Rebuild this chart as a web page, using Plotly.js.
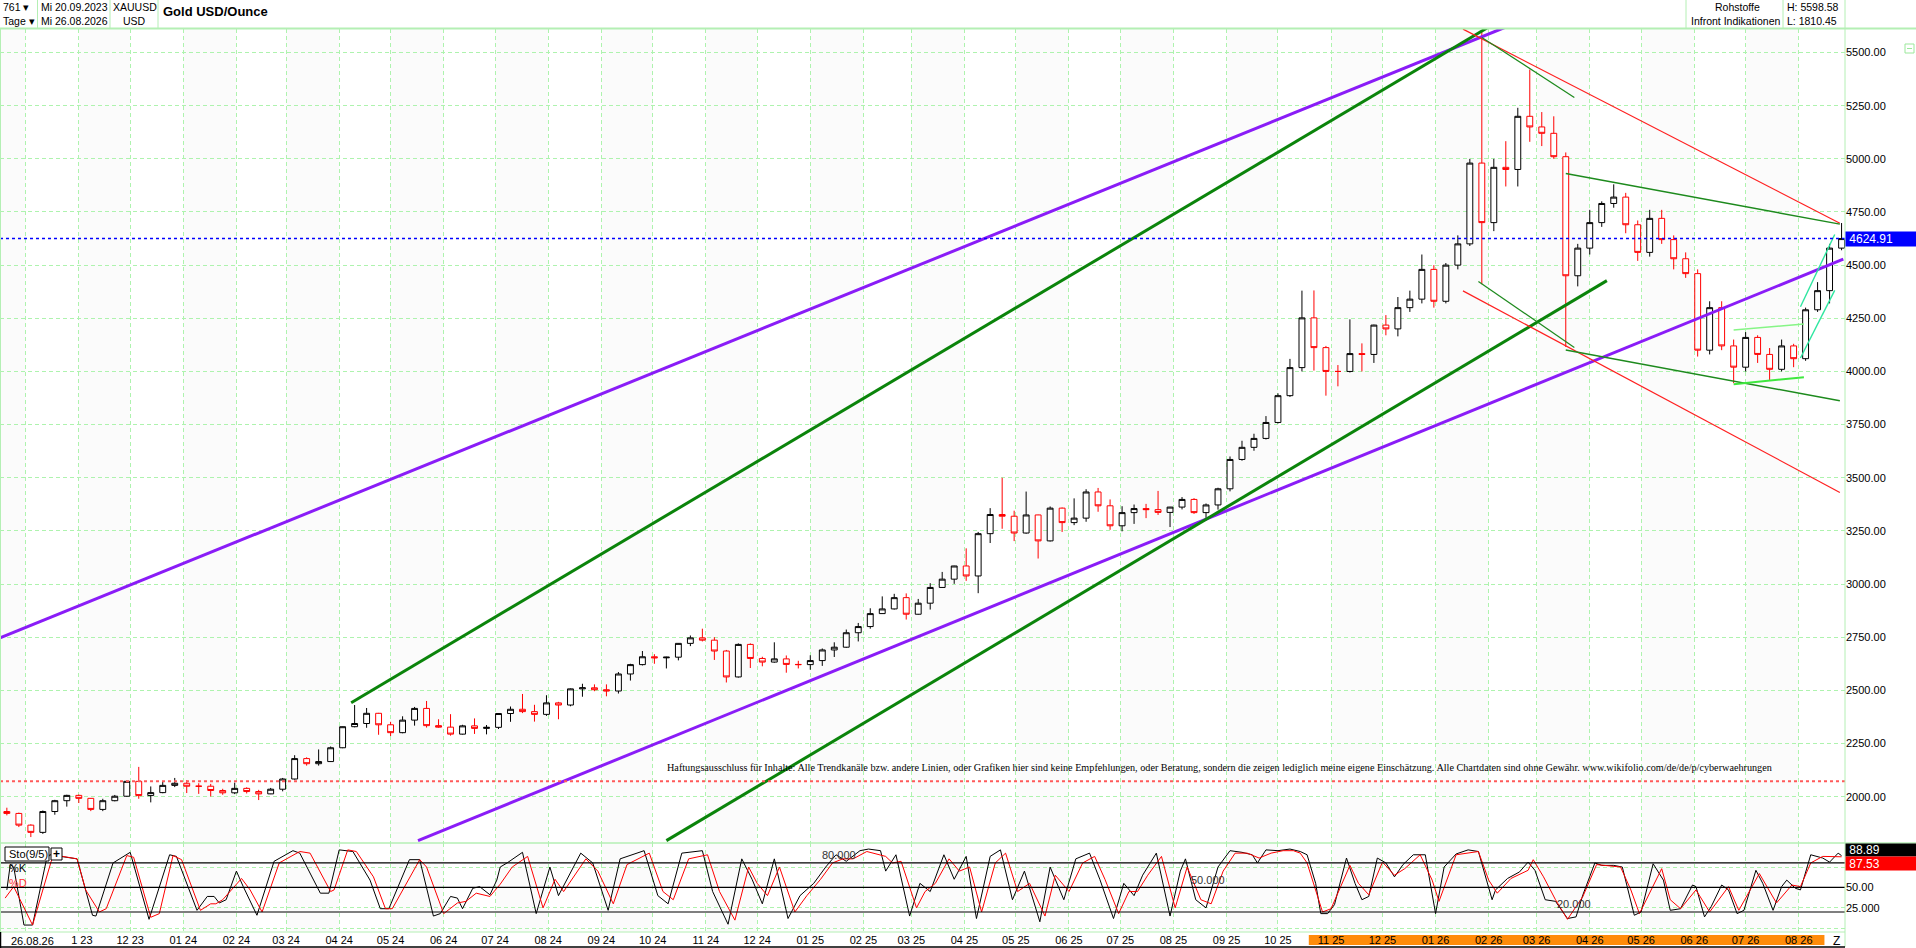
<!DOCTYPE html>
<html><head><meta charset="utf-8">
<script src="https://cdn.plot.ly/plotly-3.0.1.min.js"></script>
<style>html,body{margin:0;padding:0;background:#fff;overflow:hidden}#chart{width:1916px;height:948px}</style>
</head><body><div id="chart"></div>
<script>
// ---------------- DATA ----------------
const weekDates = ['2023-09-20','2023-09-27','2023-10-04','2023-10-11','2023-10-18','2023-10-25','2023-11-01','2023-11-08','2023-11-15','2023-11-22','2023-11-29','2023-12-06','2023-12-13','2023-12-20','2023-12-27',
'2024-01-03','2024-01-10','2024-01-17','2024-01-24','2024-01-31','2024-02-07','2024-02-14','2024-02-21','2024-02-28','2024-03-06','2024-03-13','2024-03-20','2024-03-27','2024-04-03','2024-04-10','2024-04-17','2024-04-24','2024-05-01','2024-05-08','2024-05-15','2024-05-22','2024-05-29','2024-06-05','2024-06-12','2024-06-19','2024-06-26','2024-07-03','2024-07-10','2024-07-17','2024-07-24','2024-07-31','2024-08-07','2024-08-14','2024-08-21','2024-08-28','2024-09-04','2024-09-11','2024-09-18','2024-09-25','2024-10-02','2024-10-09','2024-10-16','2024-10-23','2024-10-30','2024-11-06','2024-11-13','2024-11-20','2024-11-27','2024-12-04','2024-12-11','2024-12-18','2024-12-25',
'2025-01-01','2025-01-08','2025-01-15','2025-01-22','2025-01-29','2025-02-05','2025-02-12','2025-02-19','2025-02-26','2025-03-05','2025-03-12','2025-03-19','2025-03-26','2025-04-02','2025-04-09','2025-04-16','2025-04-23','2025-04-30','2025-05-07','2025-05-14','2025-05-21','2025-05-28','2025-06-04','2025-06-11','2025-06-18','2025-06-25','2025-07-02','2025-07-09','2025-07-16','2025-07-23','2025-07-30','2025-08-06','2025-08-13','2025-08-20','2025-08-27','2025-09-03','2025-09-10','2025-09-17','2025-09-24','2025-10-01','2025-10-08','2025-10-15','2025-10-22','2025-10-29','2025-11-05','2025-11-12','2025-11-19','2025-11-26','2025-12-03','2025-12-10','2025-12-17','2025-12-24','2025-12-31',
'2026-01-07','2026-01-14','2026-01-21','2026-01-28','2026-02-04','2026-02-11','2026-02-18','2026-02-25','2026-03-04','2026-03-11','2026-03-18','2026-03-25','2026-04-01','2026-04-08','2026-04-15','2026-04-22','2026-04-29','2026-05-06','2026-05-13','2026-05-20','2026-05-27','2026-06-03','2026-06-10','2026-06-17','2026-06-24','2026-07-01','2026-07-08','2026-07-15','2026-07-22','2026-07-29','2026-08-05','2026-08-12','2026-08-19','2026-08-26'];

const opens = [1930,1921,1866,1832,1930,1981,2006,1992,1940,1981,2002,2072,2005,2019,2053,
2063,2049,2049,2029,2018,2039,2024,2013,2035,2083,2179,2155,2165,2230,2329,2344,2392,2338,2301,2360,2415,2334,2327,2294,2333,2321,2326,2391,2411,2400,2387,2441,2431,2507,2512,2503,2497,2577,2621,2658,2653,2656,2721,2747,2736,2685,2563,2716,2650,2633,2648,2622,
2621,2640,2690,2703,2771,2800,2861,2883,2936,2858,2910,2984,3023,3085,3038,3237,3327,3319,3240,3325,3203,3357,3289,3310,3433,3368,3274,3336,3355,3350,3337,3362,3398,3336,3372,3448,3586,3643,3685,3760,3886,4018,4252,4112,4000,4000,4084,4080,4218,4200,4300,4340,4480,
4330,4500,4600,4980,4700,4960,4950,5200,5150,5120,5010,4450,4580,4700,4790,4820,4690,4560,4720,4620,4530,4460,4100,4300,4120,4020,4160,4080,4010,4120,4060,4290,4380,4580];

const highs = [1948,1925,1870,1935,1985,2009,2010,1993,1990,2008,2075,2140,2048,2070,2088,
2078,2063,2060,2037,2066,2044,2032,2041,2088,2195,2185,2222,2236,2330,2431,2417,2394,2352,2378,2422,2450,2364,2388,2338,2368,2337,2392,2424,2483,2432,2477,2446,2509,2531,2528,2528,2586,2625,2685,2670,2658,2722,2758,2790,2750,2690,2721,2721,2658,2726,2664,2639,
2665,2697,2726,2786,2817,2886,2942,2954,2956,2930,3004,3057,3086,3168,3245,3357,3500,3345,3435,3326,3365,3360,3403,3446,3452,3398,3366,3374,3377,3438,3363,3409,3404,3379,3453,3600,3674,3707,3790,3897,4059,4380,4381,4120,4030,4245,4132,4220,4265,4350,4380,4550,4500,
4510,4640,5000,5598,5000,5083,5240,5420,5220,5200,5030,4600,4760,4800,4880,4840,4710,4760,4760,4640,4560,4480,4330,4330,4150,4185,4170,4110,4150,4130,4300,4420,4600,4698];

const lows = [1912,1857,1810,1825,1915,1953,1970,1932,1932,1978,2000,1990,1973,2016,2045,
2017,2013,2001,2009,2012,2015,1984,2012,2025,2080,2146,2146,2163,2228,2326,2324,2291,2285,2298,2334,2325,2324,2287,2292,2295,2293,2318,2352,2393,2353,2380,2364,2425,2470,2496,2472,2485,2546,2617,2625,2603,2641,2708,2730,2643,2537,2560,2605,2613,2630,2583,2603,
2597,2615,2657,2700,2730,2790,2860,2880,2833,2856,2880,2982,3001,3015,2957,3193,3260,3202,3237,3120,3200,3245,3277,3293,3340,3255,3248,3283,3310,3325,3268,3351,3330,3311,3350,3436,3580,3627,3680,3755,3880,4000,4004,3886,3930,3995,4000,4040,4170,4165,4280,4320,4300,
4320,4480,4590,4410,4660,4870,4870,5080,5060,5000,4115,4400,4550,4680,4770,4650,4520,4540,4600,4480,4440,4070,4080,4100,3945,4000,4040,3960,4000,4020,4050,4280,4320,4570];

const closes = [1921,1866,1832,1930,1981,2006,1992,1940,1981,2002,2072,2005,2019,2053,2063,
2049,2049,2029,2018,2039,2024,2013,2035,2083,2179,2155,2165,2230,2329,2344,2392,2338,2301,2360,2415,2334,2327,2294,2333,2321,2326,2391,2411,2400,2387,2441,2431,2507,2512,2503,2497,2577,2621,2658,2653,2656,2721,2747,2736,2685,2563,2716,2650,2633,2648,2622,2621,
2640,2690,2703,2771,2800,2861,2883,2936,2858,2910,2984,3023,3085,3038,3237,3327,3319,3240,3325,3203,3357,3289,3310,3433,3368,3274,3336,3355,3350,3337,3362,3398,3336,3372,3448,3586,3643,3685,3760,3886,4018,4252,4112,4000,4000,4084,4080,4218,4200,4300,4340,4480,4330,
4500,4600,4980,4700,4960,4950,5200,5150,5120,5010,4450,4580,4700,4790,4820,4690,4560,4720,4620,4530,4460,4100,4300,4120,4020,4160,4080,4010,4120,4060,4290,4380,4580,4624.91];

// Stochastic (9/5)
const stoKDates = ['2023-09-20','2023-09-22','2023-09-24','2023-09-30','2023-10-05','2023-10-13','2023-10-15','2023-10-31','2023-11-09','2023-11-11','2023-11-21','2023-12-01','2023-12-12','2023-12-24','2023-12-28',
'2024-01-09','2024-01-15','2024-01-19','2024-01-22','2024-01-26','2024-02-01','2024-02-05','2024-02-13','2024-02-23','2024-03-05','2024-03-09','2024-03-21','2024-03-26','2024-04-01','2024-04-09','2024-04-19','2024-04-25','2024-04-30','2024-05-12','2024-05-18','2024-05-26','2024-05-30','2024-06-05','2024-06-09','2024-06-12','2024-06-18','2024-06-22','2024-06-28','2024-07-02','2024-07-04',
'2024-07-08','2024-07-17','2024-07-25','2024-08-02','2024-08-07','2024-08-20','2024-08-27','2024-09-05','2024-09-12','2024-09-26','2024-10-04','2024-10-10','2024-10-18','2024-10-30','2024-11-05','2024-11-14','2024-11-22','2024-11-28','2024-12-04','2024-12-11','2024-12-19','2024-12-26',
'2025-01-03','2025-01-10','2025-01-16','2025-01-22','2025-01-30','2025-02-04','2025-02-11','2025-02-14','2025-02-20','2025-02-28','2025-03-06','2025-03-12','2025-03-20','2025-03-26','2025-04-02','2025-04-08','2025-04-16','2025-04-22','2025-04-29','2025-05-06','2025-05-15','2025-05-21','2025-05-29','2025-06-05','2025-06-13','2025-06-19','2025-06-27','2025-07-03','2025-07-09','2025-07-14','2025-07-22','2025-07-30','2025-08-05','2025-08-08','2025-08-14','2025-08-20','2025-08-27','2025-09-03','2025-09-10','2025-09-16','2025-09-19','2025-09-24','2025-10-01','2025-10-08',
'2025-10-14','2025-10-18','2025-10-23','2025-10-26','2025-10-30','2025-11-03','2025-11-10','2025-11-15','2025-11-19','2025-11-23','2025-11-28','2025-12-03','2025-12-08','2025-12-13','2025-12-19','2025-12-26',
'2026-01-01','2026-01-06','2026-01-13','2026-01-20','2026-01-26','2026-02-03','2026-02-05','2026-02-12','2026-02-19','2026-02-24','2026-02-28','2026-03-06','2026-03-12','2026-03-19','2026-03-24','2026-03-28','2026-04-04','2026-04-08','2026-04-15','2026-04-20','2026-04-27','2026-05-01','2026-05-08','2026-05-14','2026-05-18','2026-05-24','2026-05-31','2026-06-02','2026-06-07','2026-06-11','2026-06-17','2026-06-21','2026-06-26','2026-06-30','2026-07-07','2026-07-11','2026-07-17','2026-07-22','2026-07-25','2026-07-30','2026-08-02','2026-08-08','2026-08-15','2026-08-19','2026-08-24','2026-08-26'];
const stoK = [47,78,75,4,4,83,90,85,16,15,80,93,11,90,88,
22,39,39,31,35,70,51,16,82,95,92,43,43,96,94,59,24,24,84,84,15,18,39,37,24,49,51,41,59,75,
80,93,18,75,40,92,80,22,85,95,40,30,92,95,45,5,85,60,30,85,12,40,
55,75,90,82,95,97,95,70,90,15,55,45,90,60,88,12,88,96,35,70,8,75,35,85,92,60,12,55,40,65,92,15,70,85,35,25,75,95,93,90,80,96,95,97,
94,90,55,18,18,29,86,55,35,39,86,80,63,78,90,90,
18,75,91,96,94,35,47,61,69,81,71,35,33,12,14,41,80,77,77,75,16,20,79,59,22,24,53,51,14,27,53,47,18,22,71,55,22,51,59,49,47,90,86,81,92,88.89];

const stoDDates = ['2023-09-19','2023-09-24','2023-10-05','2023-10-17','2023-10-31','2023-11-05','2023-11-13','2023-11-17','2023-11-29','2023-12-03','2023-12-13','2023-12-18','2023-12-26','2023-12-31',
'2024-01-11','2024-01-17','2024-01-20','2024-01-24','2024-02-04','2024-02-09','2024-02-16','2024-02-26','2024-03-09','2024-03-15','2024-03-27','2024-03-29','2024-04-06','2024-04-11','2024-04-21','2024-04-28','2024-05-02','2024-05-18','2024-05-22','2024-06-01','2024-06-09','2024-06-14','2024-06-20','2024-06-28','2024-07-04',
'2024-07-11','2024-07-20','2024-07-29','2024-08-05','2024-08-10','2024-08-23','2024-08-30','2024-09-08','2024-09-16','2024-09-29','2024-10-07','2024-10-13','2024-10-22','2024-11-02','2024-11-09','2024-11-18','2024-11-26','2024-12-01','2024-12-07','2024-12-14','2024-12-23','2024-12-30',
'2025-01-07','2025-01-14','2025-01-20','2025-01-26','2025-02-03','2025-02-14','2025-02-18','2025-02-23','2025-03-04','2025-03-09','2025-03-15','2025-03-23','2025-03-29','2025-04-04','2025-04-11','2025-04-19','2025-04-25','2025-05-02','2025-05-09','2025-05-18','2025-05-24','2025-06-01','2025-06-09','2025-06-16','2025-06-22','2025-06-30','2025-07-06','2025-07-11','2025-07-17','2025-07-25','2025-08-02','2025-08-09','2025-08-17','2025-08-23','2025-08-30','2025-09-06','2025-09-13','2025-09-20','2025-09-27','2025-10-04','2025-10-10',
'2025-10-14','2025-10-18','2025-10-27','2025-11-01','2025-11-12','2025-11-17','2025-11-23','2025-12-01','2025-12-08','2025-12-14','2025-12-23','2025-12-30',
'2026-01-03','2026-01-13','2026-01-26','2026-02-01','2026-02-06','2026-02-14','2026-02-24','2026-02-27','2026-03-05','2026-03-12','2026-03-19','2026-03-28','2026-04-05','2026-04-19','2026-04-25','2026-04-30','2026-05-13','2026-05-18','2026-05-24','2026-06-02','2026-06-10','2026-06-21','2026-06-27','2026-07-09','2026-07-19','2026-07-28','2026-08-02','2026-08-08','2026-08-15','2026-08-24','2026-08-26'];
const stoD = [37,51,4,90,85,47,20,24,89,87,13.5,18,89,84,
22,30,30,35,61,47,20,80,94,92,45,47,96,94,63,24,24,84,75,18,31,33,43,39,54,
75,88,25,60,45,85,70,30,78,92,45,35,85,90,45,10,75,55,40,75,20,40,
60,80,85,85,94,88,80,82,25,45,55,85,70,75,20,80,92,45,55,15,65,45,80,88,60,18,45,45,65,88,25,75,35,30,70,92,92,86,92,95,95,
92,80,20,24,77,55,41,81,65,73,90,59,
33,90,94,59,43,61,71,84,63,35,11,39,78,75,47,18,73,35,24,47,20,51,22,67,31,53,51,80,88,87.5,87.53];

// Month ticks (the first label is covered by the date stamp, the second is partly hidden)
const monthStarts = ['2023-10-01','2023-11-01','2023-12-01','2024-01-01','2024-02-01','2024-03-01','2024-04-01','2024-05-01','2024-06-01','2024-07-01','2024-08-01','2024-09-01','2024-10-01','2024-11-01','2024-12-01','2025-01-01','2025-02-01','2025-03-01','2025-04-01','2025-05-01','2025-06-01','2025-07-01','2025-08-01','2025-09-01','2025-10-01','2025-11-01','2025-12-01','2026-01-01','2026-02-01','2026-03-01','2026-04-01','2026-05-01','2026-06-01','2026-07-01','2026-08-01'];
const monthLabels = ['','&nbsp;&nbsp;1 23','12 23','01 24','02 24','03 24','04 24','05 24','06 24','07 24','08 24','09 24','10 24','11 24','12 24','01 25','02 25','03 25','04 25','05 25','06 25','07 25','08 25','09 25','10 25','11 25','12 25','01 26','02 26','03 26','04 26','05 26','06 26','07 26','08 26'];

// Drawn trend lines (start / end)
const lineNames  = ['purpleUpper','purpleLower','greenUpper','greenLower','redUpper','redLower','greenPeak','greenChanTop','greenDesc','greenChanBot','limeTop','limeBot','cyanTop','cyanBot'];
const lineStart  = ['2023-09-16','2024-05-17','2024-04-08','2024-10-09','2026-01-17','2026-01-17','2026-01-28','2026-03-18','2026-01-26','2026-03-18','2026-06-24','2026-06-24','2026-08-02','2026-08-02'];
const lineEnd    = ['2026-02-11','2026-08-27','2026-02-01','2026-04-11','2026-08-25','2026-08-25','2026-03-23','2026-08-25','2026-03-23','2026-08-25','2026-08-04','2026-08-04','2026-08-22','2026-08-22'];
const lineStartY = [2747,1793,2442,1793,5610,4379,5571,4931,4423,4101,4195,3940,4304,4063];
const lineEndY   = [5620,4528,5620,4427,4697,3431,5289,4693,4113,3862,4223,3973,4644,4381];

const lastPrice = 4624.91, refLevel = 2072;
const stoLevels = [20, 50, 80];
const lastK = 88.89, lastD = 87.53;
const yTickVals = [2000,2250,2500,2750,3000,3250,3500,3750,4000,4250,4500,4750,5000,5250,5500];

// ---------------- STYLE / LAYOUT ----------------
const W=1916, H=948, PR=1845;
const F = 'Liberation Sans, Arial, sans-serif';
const GRID = '#aef3ae', BORDER = '#b4efb4';
const lineStyle = {
  purpleUpper:{c:'#8a1cf7',w:3}, purpleLower:{c:'#8a1cf7',w:3},
  greenUpper:{c:'#0b840b',w:3}, greenLower:{c:'#0b840b',w:3},
  redUpper:{c:'#ff2020',w:1.2}, redLower:{c:'#ff2020',w:1.2},
  greenPeak:{c:'#1d8a1d',w:1.2}, greenChanTop:{c:'#1d8a1d',w:1.4}, greenDesc:{c:'#1d8a1d',w:1.2}, greenChanBot:{c:'#1d8a1d',w:1.4},
  limeTop:{c:'#86f586',w:1.5}, limeBot:{c:'#3ee83e',w:2},
  cyanTop:{c:'#2ee6a0',w:1.4}, cyanBot:{c:'#2ee6a0',w:1.4}
};
const px = X => X/PR, py = Y => 1 - Y/H;

const traces = [];
traces.push({type:'candlestick', x:weekDates, open:opens, high:highs, low:lows, close:closes,
  xaxis:'x', yaxis:'y', whiskerwidth:0, hoverinfo:'skip',
  increasing:{line:{color:'#000000', width:1}, fillcolor:'#ffffff'},
  decreasing:{line:{color:'#ff0000', width:1}, fillcolor:'#ffffff'}, showlegend:false});
lineNames.forEach((n,i)=>{
  traces.push({type:'scatter', mode:'lines', x:[lineStart[i], lineEnd[i]], y:[lineStartY[i], lineEndY[i]],
    xaxis:'x', yaxis:'y', line:{color:lineStyle[n].c, width:lineStyle[n].w}, hoverinfo:'skip', showlegend:false});
});
traces.push({type:'scatter', mode:'lines', x:stoKDates, y:stoK, xaxis:'x', yaxis:'y2', line:{color:'#000000', width:1}, hoverinfo:'skip', showlegend:false});
traces.push({type:'scatter', mode:'lines', x:stoDDates, y:stoD, xaxis:'x', yaxis:'y2', line:{color:'#ff0000', width:1}, hoverinfo:'skip', showlegend:false});

const X0='2023-09-16', X1='2026-08-28';
const shapes = [];
const edges = [X0, ...monthStarts, X1];
for (let i=0;i<edges.length-1;i++){
  const m = i===0 ? 9 : parseInt(monthStarts[i-1].slice(5,7),10);
  if (m % 2 === 1) shapes.push({type:'rect', xref:'x', yref:'paper', x0:edges[i], x1:edges[i+1], y0:py(932), y1:py(28.5), fillcolor:'#fbfbfb', line:{width:0}, layer:'below'});
}
shapes.push({type:'line', xref:'paper', yref:'y', x0:0, x1:1, y0:lastPrice, y1:lastPrice, line:{color:'#0000ff', width:1.5, dash:'dot'}});
shapes.push({type:'line', xref:'paper', yref:'y', x0:0, x1:1, y0:refLevel, y1:refLevel, line:{color:'#ff5a5a', width:2, dash:'dot'}});
stoLevels.forEach(v=>shapes.push({type:'line', xref:'paper', yref:'y2', x0:0, x1:1, y0:v, y1:v, line:{color:'#000000', width:1.2}}));
const L = (x0,y0,x1,y1,c,w)=>shapes.push({type:'line', xref:'paper', yref:'paper', x0:px(x0), y0:py(y0), x1:px(x1), y1:py(y1), line:{color:c, width:w||1}});
L(0,28.5,W,28.5,BORDER,2);
L(0.5,28.5,0.5,932,BORDER,1);
L(PR,28.5,PR,947,BORDER,1);
L(0,843,W,843,BORDER,1.5);
L(0,932,PR,932,BORDER,1);
[37.5,110,158,1686,1783,PR].forEach(x=>L(x,0,x,28.5,BORDER,1));
L(0.5,932,0.5,948,'#000000',1.5);
L(0,947,PR,947,'#000000',1.5);
shapes.push({type:'rect', xref:'x', yref:'paper', x0:'2025-10-19', x1:'2026-08-16', y0:py(945), y1:py(935), fillcolor:'#ff8c0a', line:{width:0}, layer:'below'});
shapes.push({type:'rect', xref:'paper', yref:'paper', x0:px(1905), x1:px(1914), y0:py(53), y1:py(44), line:{color:'#9be89b', width:1}});
L(1907,48.5,1912,48.5,'#9be89b',1);
shapes.push({type:'rect', xref:'paper', yref:'paper', x0:px(5), x1:px(49), y0:py(861), y1:py(847), line:{color:'#000', width:1}, fillcolor:'#ffffff'});
shapes.push({type:'rect', xref:'paper', yref:'paper', x0:px(51), x1:px(62), y0:py(860), y1:py(848), line:{color:'#000', width:1}, fillcolor:'#ffffff'});

const T = (text, X, Y, o={}) => Object.assign({xref:'paper', yref:'paper', x:px(X), y:py(Y), text, showarrow:false,
  xanchor:'left', yanchor:'middle', borderpad:0, font:{family:F, size:11, color:'#000'}}, o);
const HF = {family:F, size:10.5, color:'#000'};
const annotations = [
  T('761 ▾', 2, 7, {font:HF}), T('Tage ▾', 2, 21, {font:HF}),
  T('Mi 20.09.2023', 40, 7, {font:HF}), T('Mi 26.08.2026', 40, 21, {font:HF}),
  T('XAUUSD', 134.5, 7, {xanchor:'center', font:HF}), T('USD', 134.5, 21, {xanchor:'center', font:HF}),
  T('<b>Gold USD/Ounce</b>', 162, 12, {font:{family:F, size:13, color:'#000'}}),
  T('Rohstoffe', 1737, 7, {xanchor:'center', font:HF}), T('Infront Indikationen', 1735, 21, {xanchor:'center', font:HF}),
  T('H: 5598.58', 1786, 7, {font:HF}), T('L: 1810.45', 1786, 21, {font:HF}),
  T(' ' + lastPrice.toFixed(2), PR, 239, {bgcolor:'#0000ff', width:70, height:14, align:'left', font:{family:F, size:12, color:'#ffffff'}}),
  T(' ' + lastK.toFixed(2), PR, 849.5, {bgcolor:'#000000', width:70, height:12, align:'left', font:{family:F, size:12, color:'#ffffff'}}),
  T(' ' + lastD.toFixed(2), PR, 863.5, {bgcolor:'#ff0000', width:70, height:13, align:'left', font:{family:F, size:12, color:'#ffffff'}}),
  T('80.000', 821, 855, {font:{family:F, size:11, color:'#333'}}),
  T('50.000', 1190, 880, {font:{family:F, size:11, color:'#333'}}),
  T('20.000', 1556, 904, {font:{family:F, size:11, color:'#333'}}),
  T('Sto(9/5)', 8, 854), T('<b>+</b>', 56.5, 854, {xanchor:'center', font:{family:F, size:12, color:'#000'}}),
  T('%K', 8, 868, {font:{family:F, size:11, color:'#000'}}),
  T('%D', 8, 883, {font:{family:F, size:11, color:'#ff3030'}}),
  T('Haftungsausschluss für Inhalte: Alle Trendkanäle bzw. andere Linien, oder Grafiken hier sind keine Empfehlungen, oder Beratung, sondern die zeigen lediglich meine eigene Einschätzung. Alle Chartdaten sind ohne Gewähr. www.wikifolio.com/de/de/p/cyberwaehrungen',
    666, 767, {font:{family:'Liberation Serif, serif', size:10.2, color:'#000'}}),
  T('26.08.26', 10, 940.5, {font:{family:F, size:11, color:'#000'}}),
  T('Z', 1836, 940.5, {xanchor:'center', font:{family:F, size:12, color:'#000'}})
];

const layout = {
  width:W, height:H, margin:{l:0, r:W-PR, t:0, b:0, pad:0}, autosize:false,
  paper_bgcolor:'#ffffff', plot_bgcolor:'#ffffff', showlegend:false, boxgap:0.3,
  font:{family:F, size:11, color:'#000'},
  xaxis:{type:'date', range:[X0, X1], domain:[0,1], anchor:'y2', rangeslider:{visible:false},
    tickmode:'array', tickvals:monthStarts, ticktext:monthLabels, ticks:'', ticklen:0,
    tickfont:{family:F, size:11, color:'#000'}, showgrid:true, gridcolor:GRID, griddash:'4px,3px', gridwidth:1,
    showline:false, zeroline:false, fixedrange:true, automargin:false},
  yaxis:{domain:[py(843), py(28.5)], range:[1782, 5613], anchor:'x', side:'right',
    tickmode:'array', tickvals:yTickVals, ticktext:yTickVals.map(v=>v.toFixed(2)), ticks:'', ticklen:0,
    tickfont:{family:F, size:11, color:'#000'}, showgrid:true, gridcolor:GRID, griddash:'4px,3px', gridwidth:1,
    showline:false, zeroline:false, fixedrange:true, automargin:false},
  yaxis2:{domain:[py(932), py(843)], range:[-4.5, 104.4], anchor:'x', side:'right',
    tickmode:'array', tickvals:[0,25,50,75], ticktext:['','25.000','50.00',''], ticks:'', ticklen:0,
    tickfont:{family:F, size:11, color:'#000'}, showgrid:true, gridcolor:GRID, griddash:'4px,3px', gridwidth:1,
    showline:false, zeroline:false, fixedrange:true, automargin:false},
  shapes, annotations
};
Plotly.newPlot('chart', traces, layout, {staticPlot:true, displayModeBar:false});
</script></body></html>
